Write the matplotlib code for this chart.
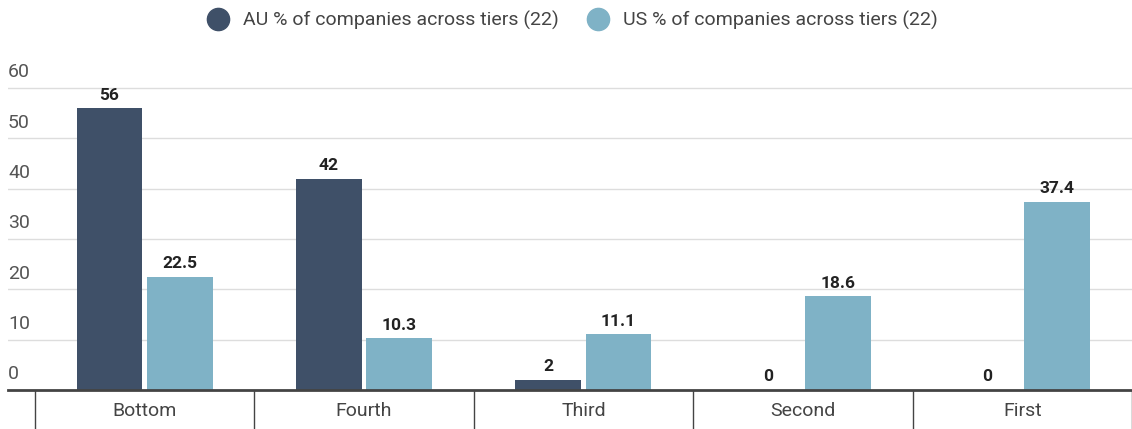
import matplotlib.pyplot as plt
from matplotlib.lines import Line2D
import numpy as np

plt.rcParams['font.family'] = ['Roboto', 'DejaVu Sans']

tiers = ['Bottom', 'Fourth', 'Third', 'Second', 'First']
au_pct = [56, 42, 2, 0, 0]
us_pct = [22.5, 10.3, 11.1, 18.6, 37.4]
y_ticks = [0, 10, 20, 30, 40, 50, 60]

au_color = '#3f5068'
us_color = '#7fb2c6'

fig = plt.figure(figsize=(11.32, 4.29), dpi=100)
W, H = 1132, 429
# axes spans from the left gridline start to the right edge
ax = fig.add_axes([8 / W, 39 / H, 1 - 8 / W, (390 - 60) / H])

x = np.arange(len(tiers))
bw = 0.30
off = 0.16
b1 = ax.bar(x - off, au_pct, bw, color=au_color, label='AU % of companies across tiers (22)')
b2 = ax.bar(x + off, us_pct, bw, color=us_color, label='US % of companies across tiers (22)')

for bars, vals in [(b1, au_pct), (b2, us_pct)]:
    for b, v in zip(bars, vals):
        ax.annotate(f'{v:g}', (b.get_x() + b.get_width() / 2, v),
                    xytext=(0, 4), textcoords='offset points',
                    ha='center', va='bottom', fontsize=12.5, fontweight='bold', color='#222222')

xmin = (8 - 145) / 220
xmax = (1132 - 145) / 220
ax.set_xlim(xmin, xmax)
ax.set_ylim(0, (390 - 60) / (302 / 60))

# gridlines and y labels sitting above them
for t in y_ticks[1:]:
    ax.axhline(t, color='#dddddd', lw=1, zorder=0)
for t in y_ticks:
    ax.text(xmin, t + 1.3, str(t), ha='left', va='bottom', fontsize=14, color='#555555')
ax.axhline(0, color='#444444', lw=2, zorder=3, clip_on=False)

# category separators below the baseline
ax.set_xticks(np.arange(len(tiers) + 1) - 0.5)
ax.set_xticklabels([])
ax.tick_params(axis='x', which='major', length=40, width=1, color='#444444', direction='out')
ax.set_xticks(x, minor=True)
ax.set_xticklabels(tiers, minor=True)
ax.tick_params(axis='x', which='minor', length=0, pad=9, labelsize=14, labelcolor='#444444')
ax.set_yticks([])
for s in ax.spines.values():
    s.set_visible(False)

handles = [Line2D([], [], marker='o', ls='', ms=16, color=au_color),
           Line2D([], [], marker='o', ls='', ms=16, color=us_color)]
fig.legend(handles, [b1.get_label(), b2.get_label()], loc='center',
           bbox_to_anchor=(568 / W, 1 - 20 / H), ncol=2, frameon=False,
           fontsize=14, labelcolor='#444444', handletextpad=0.3, columnspacing=1.0)

fig.savefig('out.png', dpi=100)
